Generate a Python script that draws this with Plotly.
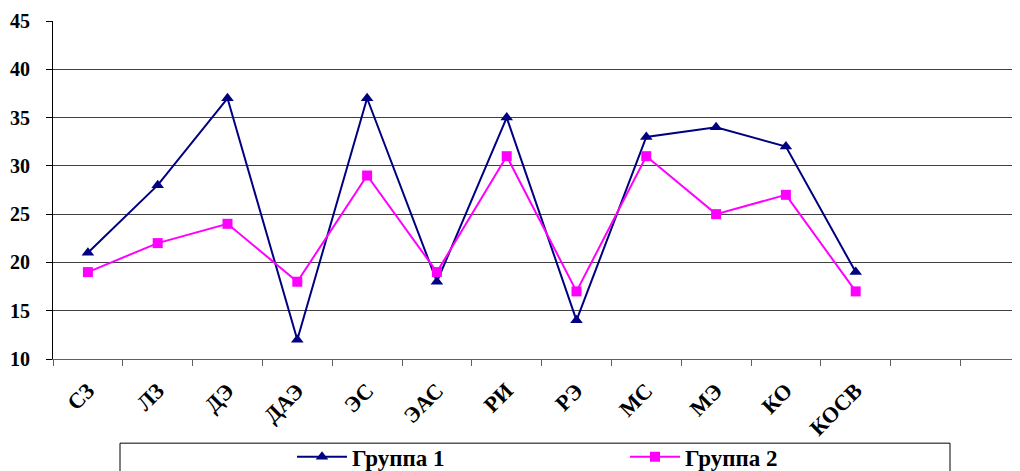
import plotly.graph_objects as go

categories = ["СЗ", "ЛЗ", "ДЭ", "ДАЭ", "ЭС", "ЭАС", "РИ", "РЭ", "МС", "МЭ", "КО", "КОСВ"]
group1 = [21, 28, 37, 12, 37, 18, 35, 14, 33, 34, 32, 19]
group2 = [19, 22, 24, 18, 29, 19, 31, 17, 31, 25, 27, 17]
series_names = ["Группа 1", "Группа 2"]
y_ticks = [10, 15, 20, 25, 30, 35, 40, 45]

xpos = list(range(len(categories)))
font_family = "Liberation Serif, Times New Roman, serif"

fig = go.Figure()
fig.add_trace(go.Scatter(
    x=xpos, y=group1, name=series_names[0], mode="lines+markers",
    line=dict(color="#000080", width=2),
    marker=dict(symbol="triangle-up", size=11, color="#000080"),
    legend="legend",
))
fig.add_trace(go.Scatter(
    x=xpos, y=group2, name=series_names[1], mode="lines+markers",
    line=dict(color="#FF00FF", width=2),
    marker=dict(symbol="square", size=10, color="#FF00FF"),
    legend="legend2",
))

legend_font = dict(family=font_family, size=23, color="black", weight="bold")
legend_common = dict(orientation="h", xanchor="left", y=-0.226, yanchor="top",
                     font=legend_font, bgcolor="rgba(0,0,0,0)", itemwidth=50)

n_slots = 14
fig.update_layout(
    width=1020, height=471,
    margin=dict(l=45, r=8, t=13, b=120, autoexpand=False),
    paper_bgcolor="white", plot_bgcolor="white",
    font=dict(family=font_family, color="black"),
    showlegend=True,
    legend=dict(x=(292 - 53) / 967, **legend_common),
    legend2=dict(x=(625 - 53) / 967, **legend_common),
    shapes=[dict(
        type="rect", xref="paper", yref="paper",
        x0=(120 - 53) / 967, x1=(950 - 53) / 967,
        y0=-0.249, y1=-0.45,
        line=dict(color="black", width=1), fillcolor="rgba(0,0,0,0)", layer="below",
    )],
)

fig.update_xaxes(
    automargin=False,
    range=[-0.5, -0.5 + 967 / 69.8],
    tickmode="array", tickvals=xpos, ticktext=categories,
    tickangle=-45, ticks="", showgrid=False, zeroline=False,
    tickfont=dict(family=font_family, size=22, color="black", weight="bold"),
    ticklabelstandoff=9,
    showline=True, linecolor="#606060", linewidth=1,
    minor=dict(tickmode="array", tickvals=[i + 0.5 for i in range(-1, n_slots)],
               ticks="outside", ticklen=6, tickcolor="#606060", showgrid=False),
)
fig.update_yaxes(
    automargin=False,
    range=[10, 45], tickmode="array", tickvals=y_ticks,
    ticks="outside", ticklen=6, tickcolor="black",
    showgrid=True, gridcolor="#404040", gridwidth=1, zeroline=False,
    showline=True, linecolor="black", linewidth=1,
    tickfont=dict(family=font_family, size=20, color="black", weight="bold"),
    ticklabelstandoff=12,
)

fig.write_html("out.html")
